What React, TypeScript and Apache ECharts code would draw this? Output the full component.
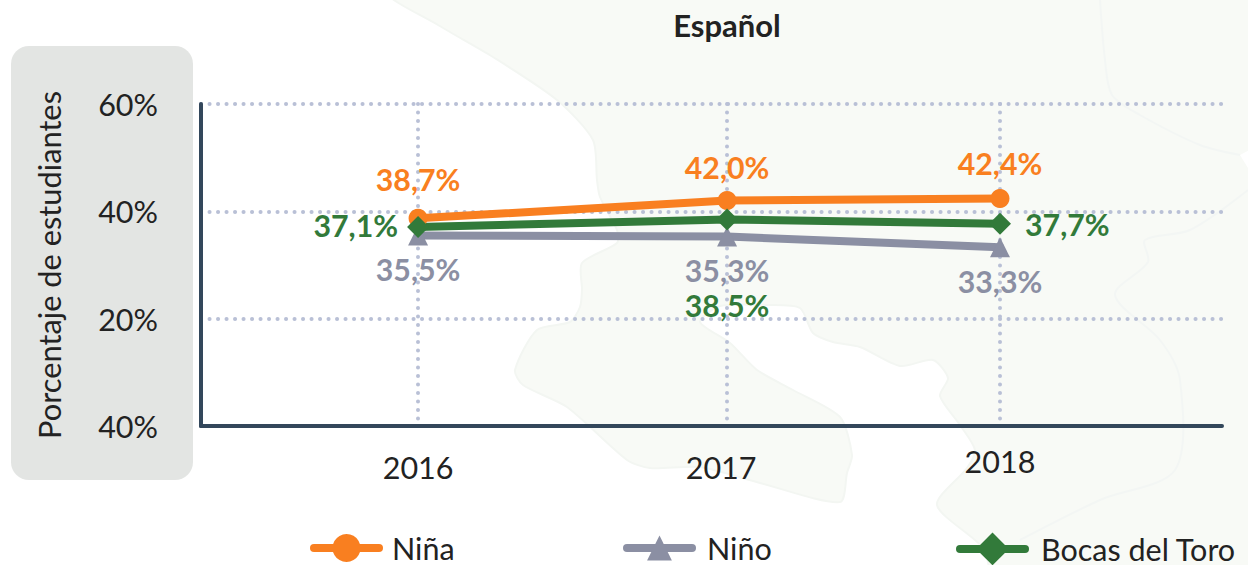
import React, { useEffect, useRef } from "react";
import * as echarts from "echarts";

const FONT = "Lato";
const years = ["2016", "2017", "2018"];
// The source chart does not space its years evenly.
const yearPositions = [2016, 2017.062, 2018];
const nina = [38.7, 42.0, 42.4];
const nino = [35.5, 35.3, 33.3];
const bocas = [37.1, 38.5, 37.7];
const yTickLabels = ["40%", "20%", "40%", "60%"];
const yTicks = [0, 20, 40, 60];

const ORANGE = "#F97F20";
const GREY = "#8B8FA3";
const GREEN = "#327A3A";

const landPoints = [
  [392, -5], [438, 25], [493, 57], [557, 100], [593, 140], [597, 180], [600, 197], [617, 230], [617, 243],
  [582, 263], [582, 290], [580, 307], [570, 322], [537, 330], [515, 370], [523, 385], [567, 407], [627, 460],
  [650, 468], [700, 467], [760, 483], [840, 502], [847, 473], [852, 455], [840, 417], [793, 390], [757, 370],
  [730, 343], [700, 322], [720, 306], [767, 305], [800, 308], [813, 333], [833, 342], [860, 347], [900, 366],
  [933, 360], [948, 378], [940, 396], [960, 425], [975, 450], [967, 468], [937, 505], [983, 548], [1000, 590],
  [1253, 590], [1253, -5],
];
const borderA = [[1100, 0], [1105, 60], [1112, 95], [1140, 115], [1200, 145], [1240, 155]];
const borderB = [[1248, 190], [1190, 230], [1145, 240], [1148, 262], [1115, 295], [1160, 340], [1180, 380], [1175, 470], [1100, 500], [1020, 540]];
const notch = [[1253, 148], [1240, 155], [1248, 168], [1253, 170]];

const fmt = (v: number) => v.toFixed(1).replace(".", ",") + "%";

function labelled(values: number[], color: string, placement: any[]) {
  return values.map((v, i) => ({
    value: [yearPositions[i], v],
    label: {
      show: true,
      color,
      fontFamily: FONT,
      fontSize: 30.3,
      fontWeight: 700,
      formatter: () => fmt(v),
      ...placement[i],
    },
  }));
}

export default function App() {
  const ref = useRef<HTMLDivElement>(null);
  useEffect(() => {
    document.body.style.margin = "0";
    const chart = echarts.init(ref.current!, null, { renderer: "svg" });
    const mk = (name: string, values: number[], color: string, symbol: string, symbolSize: number, placement: any[]) => ({
      name,
      type: "line",
      data: labelled(values, color, placement),
      symbol,
      symbolSize,
      itemStyle: { color },
      lineStyle: { color, width: 8, cap: "round" },
      z: 3,
    });
    const legend = (name: string, left: number, gap: number, h: number) => ({
      data: [name],
      left,
      top: 532.5,
      padding: 0,
      itemWidth: 65,
      itemHeight: h,
      itemGap: 0,
      lineStyle: { width: 8, cap: "round" },
      textStyle: { fontFamily: FONT, fontSize: 30.5, lineHeight: 26, color: "#222222", padding: [0, 0, 0, gap] },
    });
    const axisText = { fontFamily: FONT, fontSize: 30.5, color: "#222222" };
    const dotted = { color: "#B9C0D6", width: 4, type: [0.1, 8.4], cap: "round" };
    chart.setOption({
      animation: false,
      backgroundColor: "#ffffff",
      title: {
        text: "Español",
        left: 722,
        top: 4,
        textAlign: "center",
        textStyle: { fontFamily: FONT, fontSize: 31, fontWeight: 700, color: "#222222" },
      },
      graphic: [
        { type: "polygon", z: -3, silent: true, shape: { points: landPoints, smooth: 0.25 }, style: { fill: "#F8FAF6", stroke: "#F3F6F2", lineWidth: 2 } },
        { type: "polygon", z: -2, silent: true, shape: { points: notch }, style: { fill: "#ffffff" } },
        { type: "polyline", z: -2, silent: true, shape: { points: borderA, smooth: 0.3 }, style: { fill: "none", stroke: "#F3F6F4", lineWidth: 2 } },
        { type: "polyline", z: -2, silent: true, shape: { points: borderB, smooth: 0.3 }, style: { fill: "none", stroke: "#F3F6F4", lineWidth: 2 } },
        { type: "rect", z: -1, silent: true, shape: { x: 11, y: 46, width: 182, height: 434, r: 18 }, style: { fill: "#E3E5E3" } },
      ],
      legend: [legend("Niña", 310, 8, 35), legend("Niño", 623, 10, 31), legend("Bocas del Toro", 956, 11, 41)],
      grid: { left: 201, right: 26, top: 104, height: 322, containLabel: false },
      xAxis: {
        type: "value",
        min: 2015.254,
        max: 2018.763,
        axisLine: { show: true, onZero: false, lineStyle: { color: "#33475B", width: 4, cap: "round" } },
        axisTick: { show: false, customValues: yearPositions },
        axisLabel: {
          customValues: yearPositions,
          margin: 41,
          verticalAlign: "middle",
          ...axisText,
          formatter: (v: number) => {
            const i = yearPositions.findIndex((p) => Math.abs(p - v) < 1e-6);
            return `{y${i}|${years[i]}}`;
          },
          rich: {
            y0: { ...axisText },
            y1: { ...axisText, padding: [0, 12, 0, 0] },
            y2: { ...axisText, padding: [0, 0, 12, 0] },
          },
        },
        splitLine: { show: true, showMinLine: true, showMaxLine: true, lineStyle: dotted },
      },
      yAxis: {
        type: "value",
        min: 0,
        max: 60,
        interval: 20,
        name: "Porcentaje de estudiantes",
        nameLocation: "middle",
        nameGap: 136,
        nameTextStyle: { ...axisText, fontSize: 30.8 },
        axisLine: { show: true, lineStyle: { color: "#33475B", width: 4, cap: "round" } },
        axisTick: { show: false },
        axisLabel: {
          margin: 43,
          ...axisText,
          formatter: (v: number) => yTickLabels[yTicks.indexOf(v)],
        },
        splitLine: { show: true, lineStyle: dotted },
      },
      series: [
        mk("Niña", nina, ORANGE, "circle", 19, [
          { position: "top", distance: 15 },
          { position: "top", distance: 9 },
          { position: "top", distance: 11 },
        ]),
        mk("Niño", nino, GREY, "triangle", 20, [
          { position: "bottom", distance: 9 },
          { position: "bottom", distance: 8 },
          { position: "bottom", distance: 9 },
        ]),
        mk("Bocas del Toro", bocas, GREEN, "diamond", 22, [
          { position: "left", distance: 9, offset: [0, -2] },
          { position: "bottom", distance: 60 },
          { position: "right", distance: 14 },
        ]),
      ],
    });
    return () => chart.dispose();
  }, []);
  return (
    <div style={{ width: 1248, height: 565, overflow: "hidden" }}>
      <div ref={ref} style={{ width: 1248, height: 585 }} />
    </div>
  );
}
